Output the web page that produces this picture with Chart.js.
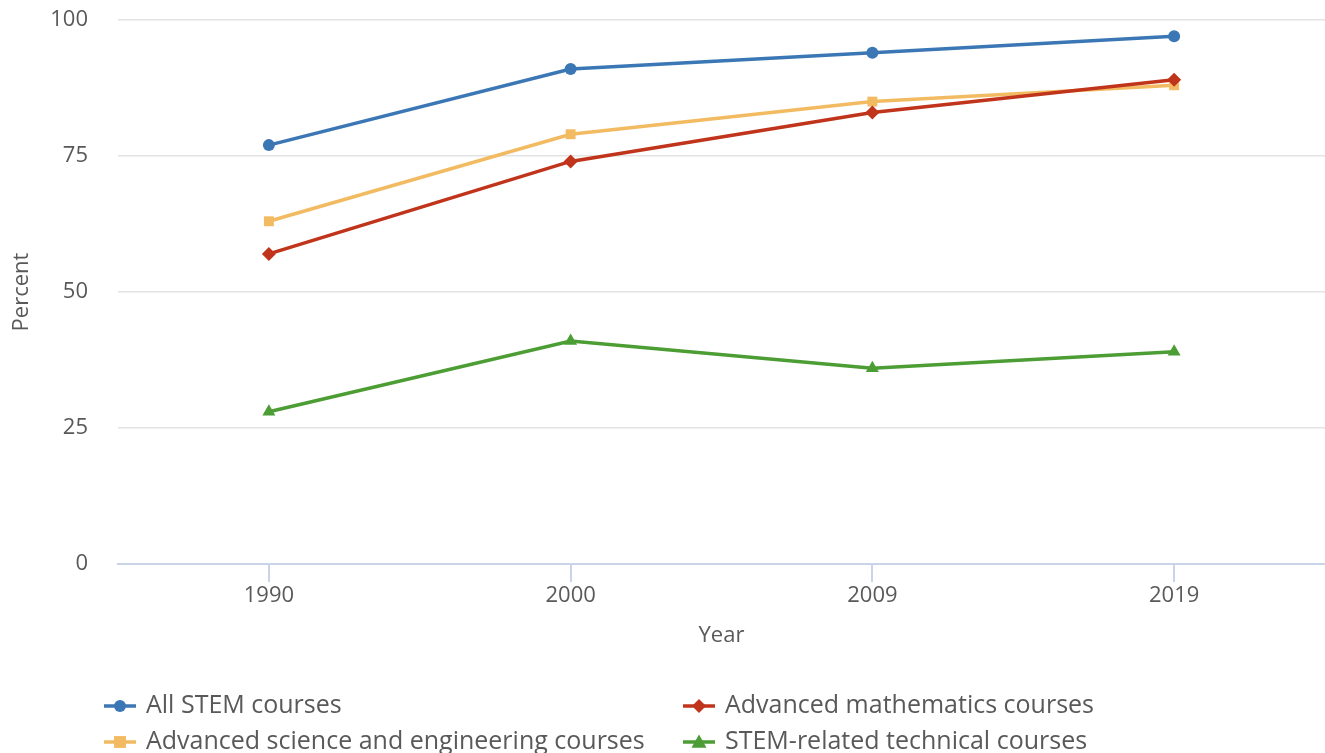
<!DOCTYPE html>
<html>
<head>
<meta charset="utf-8">
<script src="https://cdn.jsdelivr.net/npm/chart.js@4/dist/chart.umd.min.js"></script>
<style>
  html, body { margin: 0; padding: 0; background: #fff; overflow: hidden; }
  #wrap { width: 1325px; height: 753px; position: relative; }
  canvas { display: block; }
</style>
</head>
<body>
<div id="wrap"><canvas id="chart"></canvas></div>
<script>
const years = ['1990', '2000', '2009', '2019'];
const allStem = [77, 91, 94, 97];
const advMath = [57, 74, 83, 89];
const advScience = [63, 79, 85, 88];
const techCourses = [28, 41, 36, 39];
const yTicks = [0, 25, 50, 75, 100];

const FONT = '"Open Sans", "Noto Sans", sans-serif';
const TEXT = '#595959';

const series = [
  { label: 'All STEM courses', data: allStem, color: '#3b77b4', style: 'circle', radius: 6 },
  { label: 'Advanced mathematics courses', data: advMath, color: '#c0341b', style: 'rectRot', radius: 7 },
  { label: 'Advanced science and engineering courses', data: advScience, color: '#f2bb62', style: 'rect', radius: 7 },
  { label: 'STEM-related technical courses', data: techCourses, color: '#4b9d34', style: 'triangle', radius: 7.5 }
];

function marker(ctx, style, x, y, r, color) {
  ctx.save();
  ctx.fillStyle = color;
  ctx.beginPath();
  if (style === 'circle') {
    ctx.arc(x, y, r, 0, Math.PI * 2);
  } else if (style === 'rect') {
    ctx.rect(x - r * 0.85, y - r * 0.85, r * 1.7, r * 1.7);
  } else if (style === 'rectRot') {
    ctx.moveTo(x, y - r);
    ctx.lineTo(x + r, y);
    ctx.lineTo(x, y + r);
    ctx.lineTo(x - r, y);
    ctx.closePath();
  } else {
    ctx.moveTo(x, y - r);
    ctx.lineTo(x + r, y + r * 0.75);
    ctx.lineTo(x - r, y + r * 0.75);
    ctx.closePath();
  }
  ctx.fill();
  ctx.restore();
}

// two-column legend under the axis, line + marker icons like the plot
const columnLegend = {
  id: 'columnLegend',
  afterDraw(chart) {
    const ctx = chart.ctx;
    const cols = [104, 683];
    const rows = [706, 742];
    ctx.save();
    ctx.font = '25px ' + FONT;
    ctx.textBaseline = 'middle';
    chart.data.datasets.forEach((ds, i) => {
      const s = series[i];
      const x = cols[i % 2];
      const y = rows[Math.floor(i / 2)];
      ctx.strokeStyle = s.color;
      ctx.lineWidth = 3.5;
      ctx.beginPath();
      ctx.moveTo(x, y);
      ctx.lineTo(x + 32, y);
      ctx.stroke();
      marker(ctx, s.style, x + 16, y, s.radius, s.color);
      ctx.fillStyle = TEXT;
      ctx.fillText(ds.label, x + 42, y);
    });
    ctx.restore();
  }
};

// let the plot run to the canvas edges instead of reserving room for edge labels
function noEdgePadding(scale) {
  scale.paddingTop = 0;
  scale.paddingRight = 0;
  scale.paddingLeft = 0;
  scale.paddingBottom = 0;
}

new Chart(document.getElementById('chart'), {
  type: 'line',
  data: {
    labels: years,
    datasets: series.map(s => ({
      label: s.label,
      data: s.data,
      borderColor: s.color,
      backgroundColor: s.color,
      borderWidth: 3.5,
      pointStyle: s.style,
      pointRadius: s.radius,
      pointHoverRadius: s.radius,
      pointBorderWidth: 0,
      tension: 0,
      fill: false
    }))
  },
  options: {
    responsive: true,
    maintainAspectRatio: false,
    animation: false,
    layout: { autoPadding: false, padding: { left: 0, right: 0, top: 20, bottom: 99 } },
    plugins: {
      legend: { display: false },
      tooltip: { enabled: false }
    },
    scales: {
      x: {
        offset: true,
        afterFit(scale) { scale.height = 90; noEdgePadding(scale); },
        grid: {
          drawOnChartArea: false,
          drawTicks: true,
          tickLength: 18,
          color: '#c9d4e9',
          lineWidth: 2
        },
        border: { color: '#c9d4e9', width: 2 },
        ticks: { color: TEXT, font: { family: FONT, size: 22 }, padding: 1 },
        title: { display: true, text: 'Year', color: TEXT, font: { family: FONT, size: 22 }, padding: { top: 6, bottom: 5 } }
      },
      y: {
        min: 0,
        max: 100,
        afterBuildTicks(scale) { scale.ticks = yTicks.map(v => ({ value: v })); },
        afterFit(scale) { scale.width = 118; noEdgePadding(scale); },
        grid: { color: '#e3e3e3', lineWidth: 1.5, drawTicks: false },
        border: { display: false },
        ticks: { color: TEXT, font: { family: FONT, size: 22 }, padding: 30 },
        title: { display: true, text: 'Percent', color: TEXT, font: { family: FONT, size: 22 }, padding: { top: 9, bottom: 0 } }
      }
    }
  },
  plugins: [columnLegend]
});
</script>
</body>
</html>
